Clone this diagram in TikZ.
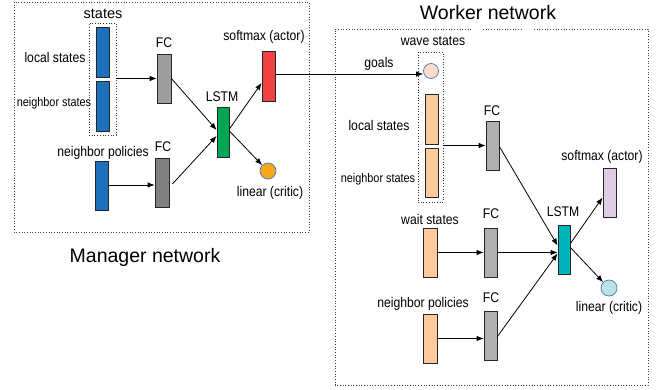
\documentclass[tikz,border=0pt]{standalone}
\usepackage{fontspec}
\setmainfont{Liberation Sans}
\newfontfamily\lbl[FakeStretch=0.87]{Liberation Sans}
\usetikzlibrary{arrows.meta,positioning,fit}

\definecolor{mblue}{RGB}{29,113,188}
\definecolor{fclight}{RGB}{158,158,158}
\definecolor{fcdark}{RGB}{128,128,128}
\definecolor{fcw}{RGB}{176,176,176}
\definecolor{lstmgreen}{RGB}{0,166,82}
\definecolor{actred}{RGB}{240,66,66}
\definecolor{critorange}{RGB}{247,166,30}
\definecolor{peach}{RGB}{252,202,157}
\definecolor{goalpeach}{RGB}{253,220,200}
\definecolor{lstmteal}{RGB}{0,180,185}
\definecolor{actpurple}{RGB}{221,204,228}
\definecolor{critcyan}{RGB}{186,228,228}
\definecolor{ringblue}{RGB}{70,120,200}

\tikzset{
  bar/.style={draw=black!85, line width=0.8pt, minimum width=13pt, minimum height=50pt, inner sep=0pt},
  dot/.style={circle, draw=ringblue, line width=0.7pt, minimum size=15pt, inner sep=0pt},
  grp/.style={draw=black!80, dotted, line width=0.7pt, inner sep=0pt},
  frame/.style={draw=black!75, dotted, line width=0.7pt},
  lab/.style={font=\lbl\fontsize{14}{16}\selectfont, inner sep=0pt},
  smalllab/.style={font=\lbl\fontsize{12.5}{14}\selectfont, inner sep=0pt},
  title/.style={font=\fontsize{19.5}{22}\selectfont, inner sep=0pt},
  conn/.style={draw=black, line width=0.8pt, -{Latex[length=7pt,width=5.5pt]}},
  plainline/.style={draw=black, line width=0.8pt}
}

\begin{document}
\begin{tikzpicture}[x=1pt,y=-1pt]
\useasboundingbox (0,0) rectangle (659,389);

% ---------------- Manager network ----------------
\draw[frame] (14,2) rectangle (309,232);
\node[title] (mtitle) at (145,257) {Manager network};

\node[bar, fill=mblue] (ls1) at (102.5,52) {};
\node[bar, fill=mblue] (ns1) at (102.5,106) {};
\node[grp, fit={(89,23) (116,135)}] (sbox) {};
\node[font=\fontsize{14.5}{16}\selectfont, inner sep=0pt] (stl) at (103,14) {states};
\node[lab] (lsl1) at (55,57) {local states};
\node[smalllab] (nsl1) at (54,103) {neighbor states};

\node[bar, fill=fclight, minimum width=14pt, minimum height=49pt] (fc1) at (164,78.5) {};
\node[lab] (fc1l) at (164,43) {FC};
\node[bar, fill=mblue, minimum height=49pt] (np1) at (101.5,185.5) {};
\node[lab] (np1l) at (103,153) {neighbor policies};
\node[bar, fill=fcdark, minimum width=14pt, minimum height=49pt] (fc2) at (162,182.5) {};
\node[lab] (fc2l) at (163,147) {FC};

\node[bar, fill=lstmgreen, minimum width=12pt] (lstm1) at (223,132) {};
\node[lab] (lstm1l) at (222,97) {LSTM};
\node[bar, fill=actred] (sm1) at (268.5,76) {};
\node[lab] (sm1l) at (264,37) {softmax (actor)};
\node[dot, fill=critorange, minimum size=16pt] (cr1) at (268,171) {};
\node[lab] (cr1l) at (270,193) {linear (critic)};

\draw[conn] (sbox.east |- fc1.west) -- (fc1.west);
\draw[conn] (np1.east |- 0,185) -- (fc2.west |- 0,185);
\draw[conn] (fc1.east) -- ([yshift=2pt]lstm1.west);
\draw[conn] ([xshift=3pt,yshift=-1.5pt]fc2.east) -- ([yshift=-4pt]lstm1.west);
\draw[conn] ([yshift=3pt]lstm1.east) -- ([yshift=-7pt]sm1.west);
\draw[conn] ([yshift=1pt]lstm1.east) -- (cr1.north west);

% ---------------- Worker network ----------------
\node[title] (wtitle) at (488,13) {Worker network};
\draw[frame] (471,29) -- (335,29) -- (335,385) -- (648,385) -- (648,29) -- (533,29);
\draw[frame] (483,29) -- (522,29);

\node[dot, fill=goalpeach] (goal) at (431,71) {};
\node[bar, fill=peach] (ls2) at (431.5,119) {};
\node[bar, fill=peach, minimum height=49pt] (ns2) at (431.5,172.5) {};
\node[grp, fit={(418,52) (443,202)}] (wbox) {};
\node[lab] (wsl) at (433,41) {wave states};
\node[lab] (goall) at (379,64) {goals};
\node[lab] (ls2l) at (379,125) {local states};
\node[smalllab] (ns2l) at (378,179) {neighbor states};

\node[bar, fill=fcw, minimum height=49pt] (fcw1) at (492.5,145.5) {};
\node[lab] (fcw1l) at (492,111) {FC};

\node[bar, fill=peach, minimum width=14pt, minimum height=49pt] (wait) at (430,252.5) {};
\node[lab] (waitl) at (430,219) {wait states};
\node[bar, fill=fcw, minimum height=49pt] (fcw2) at (490.5,252.5) {};
\node[lab] (fcw2l) at (491,214) {FC};

\node[bar, fill=peach, minimum width=14pt, minimum height=49pt] (np2) at (430,338.5) {};
\node[lab] (np2l) at (423,304) {neighbor policies};
\node[bar, fill=fcw, minimum height=49pt] (fcw3) at (490.5,335.5) {};
\node[lab] (fcw3l) at (491,298) {FC};

\node[bar, fill=lstmteal, minimum width=12pt, minimum height=49pt] (lstm2) at (564,249.5) {};
\node[lab] (lstm2l) at (563,212) {LSTM};
\node[bar, fill=actpurple, minimum height=49pt] (sm2) at (609.5,192.5) {};
\node[lab] (sm2l) at (602,157) {softmax (actor)};
\node[dot, fill=critcyan, minimum size=16pt] (cr2) at (609,288) {};
\node[lab] (cr2l) at (609,308) {linear (critic)};

% goals passed from the manager to the worker
\draw[conn] (sm1.east |- 0,74) -- (goal.west |- 0,74);

\draw[conn] (wbox.east |- fcw1.west) -- (fcw1.west);
\draw[conn] (wait.east) -- (fcw2.west);
\draw[conn] (np2.east) -- (fcw3.west |- np2.east);
\draw[conn] ([yshift=-1pt]fcw1.east) -- ([yshift=4pt]lstm2.west);
\draw[conn] (fcw2.east) -- ([yshift=-3pt]lstm2.west);
\draw[conn] ([yshift=-1pt]fcw3.east) -- ([yshift=-4pt]lstm2.west);
\draw[conn] ([yshift=6pt]lstm2.east) -- ([yshift=-5pt]sm2.west);
\draw[conn] ([yshift=2pt]lstm2.east) -- (cr2.north west);
\end{tikzpicture}
\end{document}
